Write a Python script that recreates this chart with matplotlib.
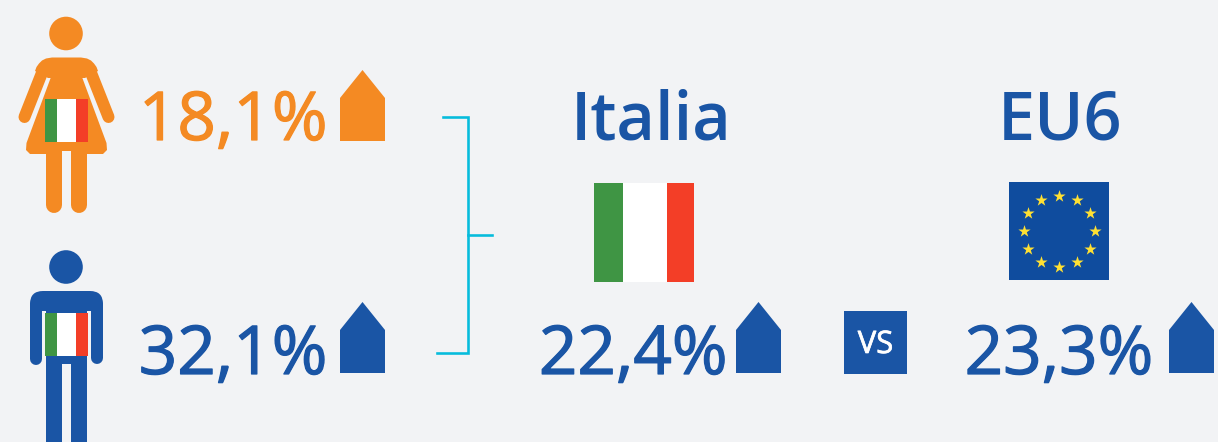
"""Infografica: Italia vs EU6"""
import numpy as np
from matplotlib import patheffects as pe
from matplotlib import pyplot as plt
from matplotlib.patches import Circle, FancyBboxPatch, Polygon, Rectangle

# dati
women_label = "18,1%"
men_label = "32,1%"
italy_label = "22,4%"
eu_label = "23,3%"
area_names = ["Italia", "EU6"]
vs_label = "VS"

ORANGE = "#F48A23"
BLUE = "#1A55A5"
CYAN = "#06BCDC"
BG = "#F2F3F5"
GREEN = "#3F9544"
RED = "#F33E27"
EU_BLUE = "#0F4C9E"
YELLOW = "#FFE033"

plt.rcParams["font.family"] = ["Open Sans", "DejaVu Sans"]

fig = plt.figure(figsize=(12.18, 4.42), dpi=100, facecolor=BG)
ax = fig.add_axes([0, 0, 1, 1])
ax.set_xlim(0, 1218)
ax.set_ylim(442, 0)
ax.axis("off")

PX = 72 / 100  # un pixel in punti


def thick(xs, ys, color, w, cap="round", z=2):
    ax.plot(xs, ys, color=color, lw=w * PX, solid_capstyle=cap, solid_joinstyle="round", zorder=z)


def italian_flag(x, y, w, h, z=5):
    ax.add_patch(Rectangle((x, y), w * 0.29, h, fc=GREEN, ec="none", zorder=z))
    ax.add_patch(Rectangle((x + w * 0.29, y), w * 0.44, h, fc="white", ec="none", zorder=z))
    ax.add_patch(Rectangle((x + w * 0.73, y), w * 0.27, h, fc=RED, ec="none", zorder=z))


def up_arrow(x, top, color):
    ax.add_patch(
        Polygon(
            [(x, top + 28), (x + 22.5, top), (x + 45, top + 28), (x + 45, top + 71), (x, top + 71)],
            closed=True, fc=color, ec="none", zorder=3,
        )
    )


def value_text(xr, y, s, color):
    # il peso medio non esiste: regular con un tratto sottile
    ax.text(
        xr, y, s, color=color, fontsize=48.5, ha="right", va="baseline", zorder=4,
        path_effects=[pe.withStroke(linewidth=0.9, foreground=color)],
    )


# donna
ax.add_patch(Circle((66, 33.5), 16.8, fc=ORANGE, ec="none"))
# spalle
ax.add_patch(
    Polygon(
        [(35, 71), (36.5, 67), (39, 63.5), (42, 60.5), (46, 58.5), (52, 57.5), (81, 57.5),
         (87, 58.5), (91, 60.5), (94, 63.5), (96.5, 67), (98, 71), (85, 78), (48, 78)],
        closed=True, fc=ORANGE, ec="none", zorder=2,
    )
)
# vestito
ax.add_patch(
    Polygon(
        [(51, 77), (82, 77), (106.5, 143), (107, 150), (103, 154), (30, 154), (26, 150), (26.5, 143)],
        closed=True, fc=ORANGE, ec="none", zorder=2,
    )
)
thick([41.5, 24.5], [74, 117], ORANGE, 12)
thick([91.5, 108.5], [74, 117], ORANGE, 12)
thick([54, 54], [150, 204.5], ORANGE, 16)
thick([78.7, 78.7], [150, 204.5], ORANGE, 16)
ax.add_patch(Rectangle((62, 151), 8.7, 4, fc=BG, ec="none", zorder=2.6))
italian_flag(45, 99, 43, 43)

# uomo
ax.add_patch(Circle((66, 267), 16.8, fc=BLUE, ec="none"))
ax.add_patch(
    FancyBboxPatch((30, 291), 73, 30, boxstyle="round,pad=0,rounding_size=13", fc=BLUE, ec="none")
)
thick([36, 36], [305, 358.5], BLUE, 12)
thick([97, 97], [305, 358], BLUE, 12)
ax.add_patch(Rectangle((42, 311), 4, 60, fc=BG, ec="none", zorder=2.5))
ax.add_patch(Rectangle((87, 311), 4, 60, fc=BG, ec="none", zorder=2.5))
ax.add_patch(Rectangle((46, 311), 41, 53, fc=BLUE, ec="none", zorder=2.6))
ax.add_patch(Rectangle((46, 360), 16.3, 90, fc=BLUE, ec="none", zorder=2.6))
ax.add_patch(Rectangle((70.7, 360), 16.3, 90, fc=BLUE, ec="none", zorder=2.6))
italian_flag(45, 313, 43, 43)

# valori
value_text(327.5, 140, women_label, ORANGE)
value_text(327.5, 374, men_label, BLUE)
value_text(727.5, 374, italy_label, BLUE)
value_text(1153.5, 374, eu_label, BLUE)

up_arrow(340, 70, ORANGE)
up_arrow(340, 302, BLUE)
up_arrow(736, 302, BLUE)
up_arrow(1169, 302, BLUE)

# parentesi
ax.plot([443, 468, 468, 437], [117, 117, 353, 353], color=CYAN, lw=2.6 * PX, solid_joinstyle="miter")
ax.plot([468, 492], [235, 235], color=CYAN, lw=2.6 * PX)

# titoli
for name, xc in zip(area_names, [651.5, 1060.5]):
    ax.text(xc, 140, name, color=BLUE, fontsize=48, fontweight=600, ha="center", va="baseline")

# bandiere
italian_flag(594, 183, 100, 99)
ax.add_patch(Rectangle((1009, 182), 100, 98, fc=EU_BLUE, ec="none"))
angles = np.deg2rad(np.arange(12) * 30)
ax.scatter(
    1059 + 35.5 * np.sin(angles), 231 - 35.5 * np.cos(angles),
    marker="*", s=85, color=YELLOW, linewidths=0, zorder=5,
)

# vs
ax.add_patch(Rectangle((844, 311), 63, 63, fc=BLUE, ec="none"))
ax.text(
    875.5, 353, vs_label, color="white", fontsize=22.3, ha="center", va="baseline",
    path_effects=[pe.withStroke(linewidth=0.5, foreground="white")],
)

fig.savefig("out.png", dpi=100, facecolor=BG)
